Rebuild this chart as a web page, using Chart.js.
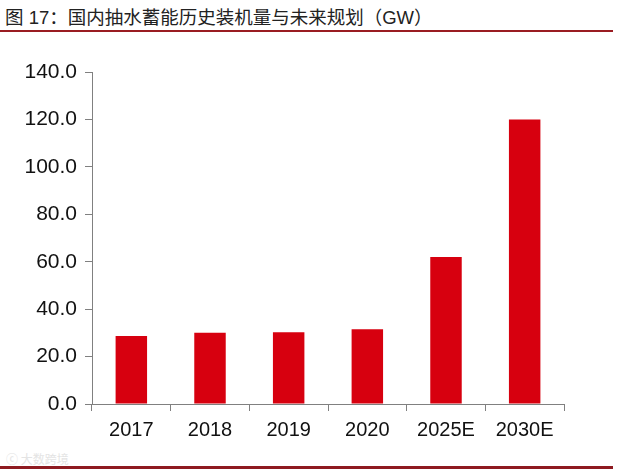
<!DOCTYPE html>
<html>
<head>
<meta charset="utf-8">
<script src="https://cdn.jsdelivr.net/npm/chart.js@4/dist/chart.umd.min.js"></script>
<style>
  body { margin: 0; width: 618px; height: 470px; background: #fff; position: relative; overflow: hidden; font-family: "Liberation Sans", Arial, "Noto Sans CJK SC", sans-serif; }
  #title { position: absolute; left: 5px; top: 3px; font-size: 18.5px; color: #222; font-family: "Liberation Sans", "Noto Sans CJK SC", sans-serif; }
  #topline { position: absolute; left: 0; top: 30px; width: 613px; height: 2px; background: #9a1c22; }
  #botline { position: absolute; left: 0; top: 466px; width: 613px; height: 3px; background: #8e1a20; }
  #mark { position: absolute; left: 6px; top: 450px; font-size: 12px; color: #e4e4e4; font-family: "Noto Sans CJK SC", sans-serif; }
  #wrap { position: absolute; left: 0; top: 40px; width: 618px; height: 410px; }
</style>
</head>
<body>
<div id="title">图 17：国内抽水蓄能历史装机量与未来规划（GW）</div>
<div id="topline"></div>
<div id="wrap"><canvas id="chart"></canvas></div>
<div id="mark">ⓒ 大数跨境</div>
<div id="botline"></div>
<script>
const years = ['2017', '2018', '2019', '2020', '2025E', '2030E'];
const capacity = [28.7, 30.0, 30.3, 31.5, 62.0, 120.0];
const yMin = 0;
const yMax = 140;
const yStep = 20;

const ctx = document.getElementById('chart').getContext('2d');
new Chart(ctx, {
    type: 'bar',
    data: {
        labels: years,
        datasets: [
            {
                label: '装机量',
                data: capacity,
                backgroundColor: '#d7000f',
                borderWidth: 0,
                barPercentage: 0.8,
                categoryPercentage: 0.5
            }
        ]
    },
    options: {
        responsive: true,
        maintainAspectRatio: false,
        animation: false,
        layout: { padding: { top: 32, right: 54, left: 0, bottom: 0 } },
        plugins: {
            legend: { display: false },
            tooltip: { enabled: false }
        },
        scales: {
            x: {
                offset: true,
                grid: { offset: true, drawOnChartArea: false, tickLength: 7, color: '#808080' },
                border: { color: '#808080', width: 1 },
                ticks: { color: '#111', font: { size: 20, family: 'Liberation Sans' }, padding: 7, maxRotation: 0 },
                afterFit: (scale) => { scale.height = 46; }
            },
            y: {
                min: yMin,
                max: yMax,
                grid: { drawOnChartArea: false, tickLength: 7, color: '#808080' },
                border: { color: '#808080', width: 1 },
                ticks: {
                    stepSize: yStep,
                    color: '#111',
                    font: { size: 21, family: 'Liberation Sans' },
                    padding: 8,
                    callback: (v) => v.toFixed(1)
                },
                afterFit: (scale) => { scale.width = 92; }
            }
        }
    }
});
</script>
</body>
</html>
